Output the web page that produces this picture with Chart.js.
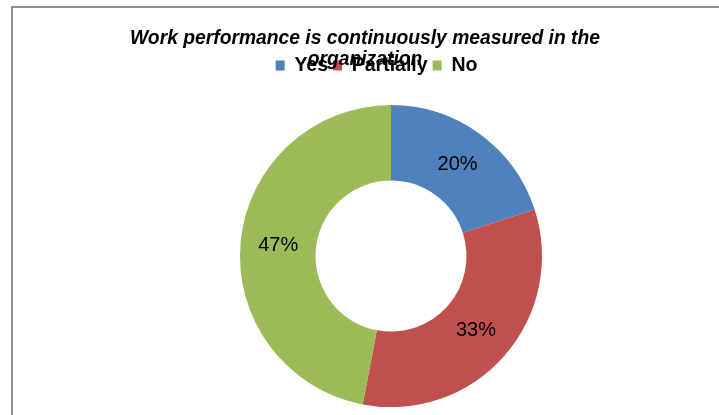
<!DOCTYPE html>
<html>
<head>
<meta charset="utf-8">
<script src="https://cdn.jsdelivr.net/npm/chart.js@4/dist/chart.umd.min.js"></script>
<style>
  html, body { margin: 0; padding: 0; background: #ffffff; overflow: hidden; }
  #wrap { position: relative; width: 719px; height: 415px; overflow: hidden; }
  #frame { position: absolute; left: 11px; top: 6px; width: 900px; height: 600px; border: 2px solid #8e8e8e; box-sizing: border-box; }
  #c { position: absolute; left: 0; top: 0; }
</style>
</head>
<body>
<div id="wrap">
  <div id="frame"></div>
  <canvas id="c" width="719" height="427"></canvas>
</div>
<script>
const titleLines = ["Work performance is continuously measured in the", "organization"];
const categories = ["Yes", "Partially", "No"];
const values = [20, 33, 47];
const colors = ["#4F81BD", "#C0504D", "#9BBB59"];

const sliceLabels = {
  id: 'sliceLabels',
  afterDatasetsDraw(chart) {
    const ctx = chart.ctx;
    const meta = chart.getDatasetMeta(0);
    const data = chart.data.datasets[0].data;
    const total = data.reduce((a, b) => a + b, 0);
    ctx.save();
    ctx.font = '20px "Liberation Sans", Arial, sans-serif';
    ctx.fillStyle = '#000000';
    ctx.textAlign = 'center';
    ctx.textBaseline = 'middle';
    meta.data.forEach((arc, i) => {
      const p = arc.tooltipPosition();
      ctx.fillText(Math.round(data[i] / total * 100) + '%', p.x, p.y);
    });
    ctx.restore();
  }
};

// nudge the legend row a little to the right of the title centre, as in the original
const legendShift = {
  id: 'legendShift',
  afterLayout(chart) {
    if (chart.legend) {
      chart.legend.left += 11.5;
      chart.legend.right += 11.5;
    }
  }
};

new Chart(document.getElementById('c'), {
  type: 'doughnut',
  data: {
    labels: categories,
    datasets: [{
      data: values,
      backgroundColor: colors,
      borderWidth: 0,
      radius: 151,
      cutout: '50%'
    }]
  },
  options: {
    responsive: false,
    animation: false,
    layout: { padding: { left: 11, right: 0, top: 28.8, bottom: 0 } },
    plugins: {
      title: {
        display: true,
        text: titleLines,
        color: '#000000',
        font: { family: '"Liberation Sans", Arial, sans-serif', size: 19.3, weight: 'bold', style: 'italic', lineHeight: 1.06 },
        padding: { top: 0, bottom: -19.05 }
      },
      subtitle: {
        display: true,
        text: '',
        position: 'left',
        fullSize: false,
        font: { size: 52, lineHeight: 1 },
        padding: 0
      },
      legend: {
        display: true,
        position: 'top',
        labels: {
          color: '#000000',
          font: { family: '"Liberation Sans", Arial, sans-serif', size: 19.5, weight: 'bold' },
          boxWidth: 9,
          boxHeight: 10,
          padding: 5
        }
      },
      tooltip: { enabled: false }
    }
  },
  plugins: [sliceLabels, legendShift]
});
</script>
</body>
</html>
